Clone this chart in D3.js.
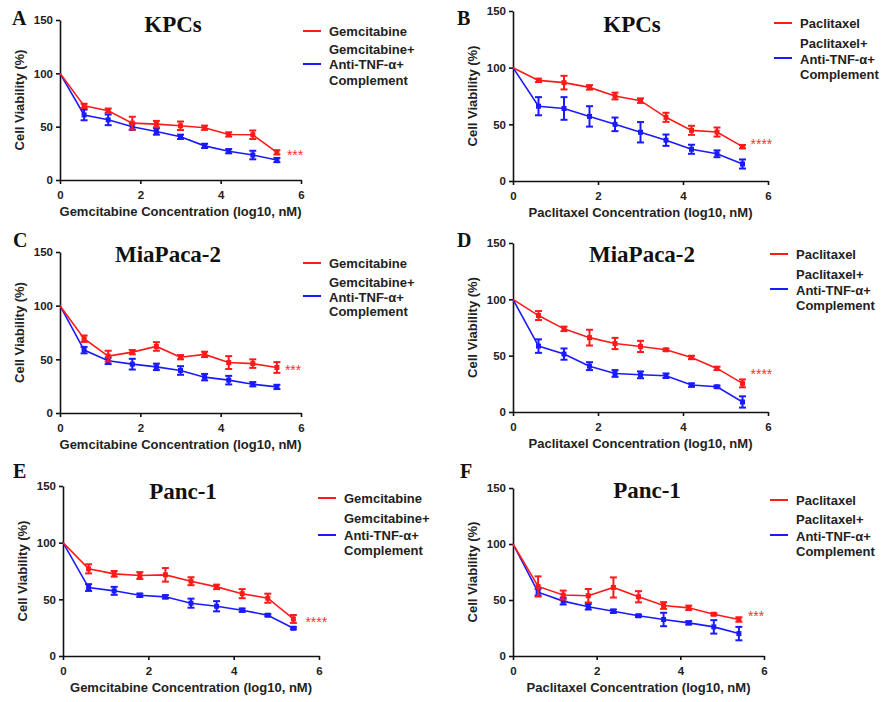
<!DOCTYPE html>
<html>
<head>
<meta charset="utf-8">
<script src="https://cdn.jsdelivr.net/npm/d3@7"></script>
<style>
  body { margin: 0; background: #fff; }
  .tick text { font-family: "Liberation Sans", Arial, sans-serif; font-weight: bold; font-size: 11.5px; fill: #222; }
  .axisTitle { font-family: "Liberation Sans", Arial, sans-serif; font-weight: bold; font-size: 13px; fill: #222; }
  .legendText { font-family: "Liberation Sans", Arial, sans-serif; font-weight: bold; font-size: 13px; fill: #222; }
  .panelTitle { font-family: "Liberation Serif", "Times New Roman", serif; font-weight: bold; font-size: 23px; fill: #111; }
  .panelLetter { font-family: "Liberation Serif", "Times New Roman", serif; font-weight: bold; font-size: 20px; fill: #111; }
  .stars { font-family: "Liberation Sans", Arial, sans-serif; font-size: 14px; fill: #ff3030; }
</style>
</head>
<body>
<div id="container"></div>
<script>
// Data ---------- ---------- ----------
const conc = [0, 0.6, 1.2, 1.8, 2.4, 3.0, 3.6, 4.2, 4.8, 5.4]; // log10 nM
const yTicks = [0, 50, 100, 150];
const xTicks = [0, 2, 4, 6];

// A: KPCs, gemcitabine
const kpcGem       = [100, 69.5, 65, 53.3, 52.4, 50.8, 49, 42.7, 42.4, 25.9];
const kpcGemErr    = [0, 2, 2, 6, 3, 4, 2, 2, 4, 2];
const kpcGemTnf    = [100, 61, 56.4, 50, 45.5, 40.5, 32, 27, 23.4, 18.7];
const kpcGemTnfErr = [0, 5, 5, 3, 3, 2, 2, 2, 4, 2];
// B: KPCs, paclitaxel
const kpcPac       = [100, 88.8, 86.8, 82.6, 75, 70.9, 56.2, 44.7, 43.2, 30.3];
const kpcPacErr    = [0, 1.5, 6, 2, 3, 2, 4, 4, 4, 1.5];
const kpcPacTnf    = [100, 66, 64, 57, 50, 43, 36, 28, 24, 15];
const kpcPacTnfErr = [0, 8, 10, 9, 6, 9, 5, 4, 3, 4];
// C: MiaPaca-2, gemcitabine
const miaGem       = [100, 69.2, 53, 56.7, 62, 52, 54.6, 47, 46, 42.4];
const miaGemErr    = [0, 3, 5, 2, 4, 2, 2.5, 6, 4, 5];
const miaGemTnf    = [100, 58.6, 48.6, 45.5, 43, 39.6, 33.4, 30.6, 26.8, 24.3];
const miaGemTnfErr = [0, 3, 3, 5, 3, 4, 3, 4, 2, 2];
// D: MiaPaca-2, paclitaxel
const miaPac       = [100, 85.6, 73.8, 66, 60.8, 58.2, 55.2, 48.4, 38.7, 25.4];
const miaPacErr    = [0, 4, 2, 7, 5, 5, 1, 1.5, 1.5, 3.5];
const miaPacTnf    = [100, 58.5, 51.4, 40.7, 34.2, 33, 32.2, 23.9, 22.4, 8.9];
const miaPacTnfErr = [0, 6, 5, 3.5, 3, 3, 2, 1.5, 1, 5];
// E: Panc-1, gemcitabine
const panGem       = [100, 76.9, 72.5, 71, 71.6, 66, 61, 55, 51, 32.7];
const panGemErr    = [0, 4, 2.5, 3, 6, 3.5, 2, 4, 4, 3.5];
const panGemTnf    = [100, 60.4, 57.5, 53.6, 52.2, 46.6, 43.9, 40.4, 36, 24.5];
const panGemTnfErr = [0, 3, 3.5, 1.5, 1.5, 4, 4.5, 1.5, 1, 1];
// F: Panc-1, paclitaxel
const panPac       = [100, 62.1, 54.4, 53.8, 61.2, 52.9, 45.1, 43, 37.3, 32.6];
const panPacErr    = [0, 9, 4, 6, 9, 5, 3, 2, 1, 2];
const panPacTnf    = [100, 57, 49, 44, 40, 35.9, 32.6, 29.6, 26, 20];
const panPacTnfErr = [0, 3, 3, 2.5, 1.5, 1, 6, 1.5, 6, 6];

const gemLegend = ["Gemcitabine", "Gemcitabine+", "Anti-TNF-\u03b1+", "Complement"];
const pacLegend = ["Paclitaxel", "Paclitaxel+", "Anti-TNF-\u03b1+", "Complement"];

// Layout ---------- ---------- ----------
let canvasW = 883, canvasH = 702;
const red = "#ff1a1a", blue = "#1a1aff";

const panels = [
  {letter:"A", title:"KPCs", drug:"Gemcitabine", legend:gemLegend, mono:kpcGem, monoErr:kpcGemErr, combo:kpcGemTnf, comboErr:kpcGemTnfErr, stars:"***",
   x0:60, x1:301, yTop:20, yBot:180, tx:173, ty:32, lx:12, ly:25, legX:303, legY:[31,49,64.5,80], blueY:64, starDx:10, starDy:0},
  {letter:"B", title:"KPCs", drug:"Paclitaxel", legend:pacLegend, mono:kpcPac, monoErr:kpcPacErr, combo:kpcPacTnf, comboErr:kpcPacTnfErr, stars:"****",
   x0:513, x1:768, yTop:11, yBot:181, tx:632, ty:32, lx:457, ly:25, legX:774, legY:[23,43,59,74], blueY:58, starDx:8, starDy:-6},
  {letter:"C", title:"MiaPaca-2", drug:"Gemcitabine", legend:gemLegend, mono:miaGem, monoErr:miaGemErr, combo:miaGemTnf, comboErr:miaGemTnfErr, stars:"***",
   x0:60, x1:301, yTop:252, yBot:413, tx:168, ty:262, lx:13, ly:247, legX:303, legY:[263,282,297,311], blueY:296, starDx:8, starDy:0},
  {letter:"D", title:"MiaPaca-2", drug:"Paclitaxel", legend:pacLegend, mono:miaPac, monoErr:miaPacErr, combo:miaPacTnf, comboErr:miaPacTnfErr, stars:"****",
   x0:513, x1:768, yTop:243, yBot:412, tx:642, ty:262, lx:457, ly:247, legX:770, legY:[254,274,290,305], blueY:289, starDx:8, starDy:-12},
  {letter:"E", title:"Panc-1", drug:"Gemcitabine", legend:gemLegend, mono:panGem, monoErr:panGemErr, combo:panGemTnf, comboErr:panGemTnfErr, stars:"****",
   x0:63, x1:319, yTop:486, yBot:656, tx:183, ty:499, lx:13, ly:478, legX:318, legY:[498,518,535,550], blueY:535, starDx:12, starDy:0},
  {letter:"F", title:"Panc-1", drug:"Paclitaxel", legend:pacLegend, mono:panPac, monoErr:panPacErr, combo:panPacTnf, comboErr:panPacTnfErr, stars:"***",
   x0:513, x1:764, yTop:488, yBot:656, tx:647, ty:498, lx:460, ly:478, legX:770, legY:[500,519,536,551], blueY:535, starDx:9, starDy:-6}
];

//Initialize ---------- ---------- ----------
let svg = d3.select("#container").append("svg").attr("width", canvasW).attr("height", canvasH);
svg.append("rect").attr("width", canvasW).attr("height", canvasH).attr("fill", "#fff");

panels.forEach(p => drawPanel(p));

function drawPanel(p)
{
    let x = d3.scaleLinear().domain([0, 6]).range([p.x0, p.x1]);
    let y = d3.scaleLinear().domain([0, 150]).range([p.yBot, p.yTop]);
    let g = svg.append("g");

    // Axes
    g.append("g").attr("transform", "translate(" + p.x0 + ",0)")
        .call(d3.axisLeft(y).tickValues(yTicks).tickFormat(d3.format("d"))
            .tickSize(4).tickPadding(3).tickSizeOuter(0));
    g.append("g").attr("transform", "translate(0," + p.yBot + ")")
        .call(d3.axisBottom(x).tickValues(xTicks).tickFormat(d3.format("d"))
            .tickSize(4).tickPadding(7).tickSizeOuter(0));
    g.selectAll(".domain, .tick line").attr("stroke", "#111").attr("stroke-width", 1.6);

    g.append("text").attr("class", "axisTitle")
        .attr("x", (p.x0 + p.x1) / 2).attr("y", p.yBot + 36)
        .attr("text-anchor", "middle")
        .text(p.drug + " Concentration (log10, nM)");
    g.append("text").attr("class", "axisTitle")
        .attr("transform", "translate(" + (p.x0 - 36) + "," + ((p.yTop + p.yBot) / 2) + ") rotate(-90)")
        .attr("text-anchor", "middle")
        .text("Cell Viability (%)");

    // Titles
    g.append("text").attr("class", "panelTitle").attr("x", p.tx).attr("y", p.ty)
        .attr("text-anchor", "middle").text(p.title);
    g.append("text").attr("class", "panelLetter").attr("x", p.lx).attr("y", p.ly).text(p.letter);

    // Series: combination (blue) under single drug (red)
    drawSeries(g, x, y, p.combo, p.comboErr, blue);
    drawSeries(g, x, y, p.mono, p.monoErr, red);

    // Significance
    let last = conc.length - 1;
    g.append("text").attr("class", "stars")
        .attr("x", x(conc[last]) + p.starDx).attr("y", y(p.mono[last]) + 8 + p.starDy)
        .text(p.stars);

    // Legend
    g.append("line").attr("x1", p.legX).attr("x2", p.legX + 18)
        .attr("y1", p.legY[0]).attr("y2", p.legY[0])
        .attr("stroke", red).attr("stroke-width", 2);
    g.append("line").attr("x1", p.legX).attr("x2", p.legX + 18)
        .attr("y1", p.blueY).attr("y2", p.blueY)
        .attr("stroke", blue).attr("stroke-width", 2);
    g.selectAll(".legendText").data(p.legend).enter().append("text")
        .attr("class", "legendText")
        .attr("x", p.legX + 26).attr("y", (d,i) => p.legY[i])
        .attr("dy", "0.35em")
        .text(d => d);
}

function drawSeries(g, x, y, vals, errs, color)
{
    let pts = conc.map((c,i) => ({c: c, v: vals[i], e: errs[i]}));
    let line = d3.line().x(d => x(d.c)).y(d => y(d.v));
    g.append("path").datum(pts).attr("d", line)
        .attr("fill", "none").attr("stroke", color).attr("stroke-width", 1.6);

    let bars = g.selectAll(null).data(pts.filter(d => d.e > 0)).enter().append("g")
        .attr("stroke", color).attr("stroke-width", 2);
    bars.append("line").attr("x1", d => x(d.c)).attr("x2", d => x(d.c))
        .attr("y1", d => y(d.v - d.e)).attr("y2", d => y(d.v + d.e));
    bars.append("line").attr("x1", d => x(d.c) - 3.5).attr("x2", d => x(d.c) + 3.5)
        .attr("y1", d => y(d.v + d.e)).attr("y2", d => y(d.v + d.e));
    bars.append("line").attr("x1", d => x(d.c) - 3.5).attr("x2", d => x(d.c) + 3.5)
        .attr("y1", d => y(d.v - d.e)).attr("y2", d => y(d.v - d.e));

    g.selectAll(null).data(pts.slice(1)).enter().append("rect")
        .attr("x", d => x(d.c) - 2.5).attr("y", d => y(d.v) - 2.5)
        .attr("width", 5).attr("height", 5)
        .attr("fill", color);
}
</script>
</body>
</html>
